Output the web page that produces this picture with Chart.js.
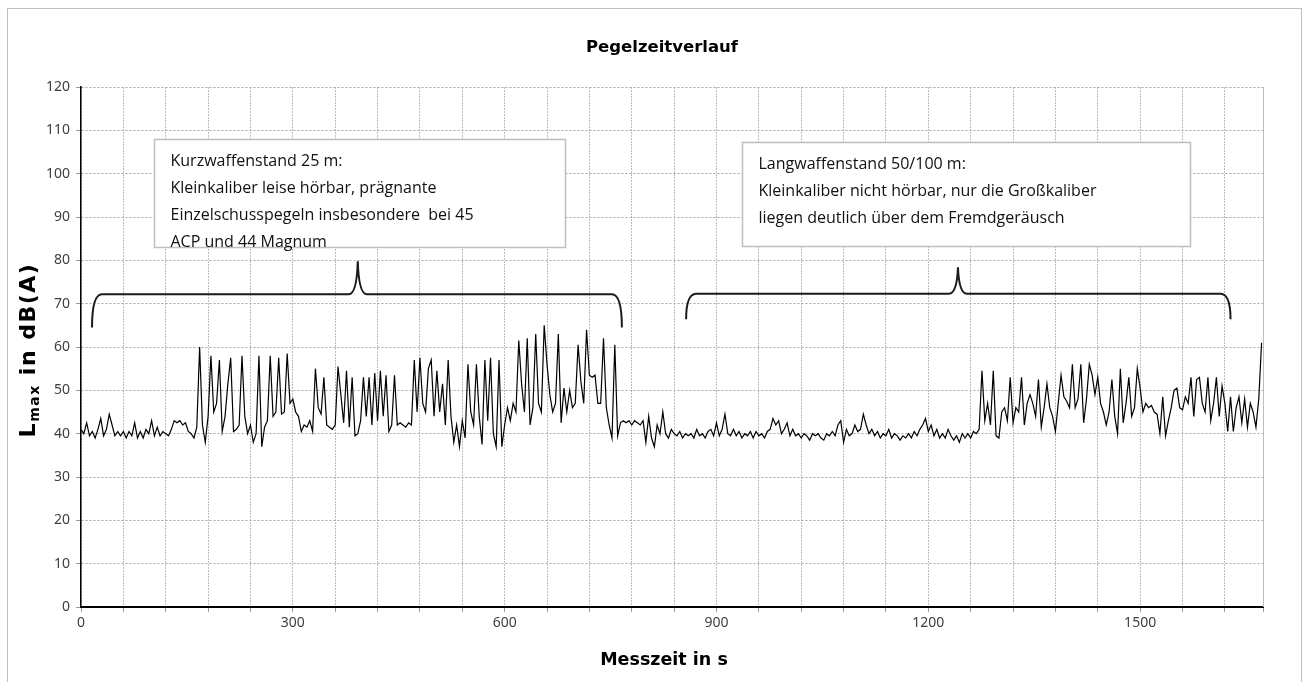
<!DOCTYPE html>
<html lang="de">
<head>
<meta charset="utf-8">
<title>Pegelzeitverlauf</title>
<script src="https://cdn.jsdelivr.net/npm/chart.js@4.4.1/dist/chart.umd.min.js"></script>
<style>
    html, body { margin: 0; padding: 0; background: #fff; }
    #wrap { width: 1309px; height: 682px; }
</style>
</head>
<body>
<div id="wrap"><canvas id="chart" width="1309" height="682"></canvas></div>
<script>

// ---------------- DATA ----------------
// L_max in dB(A), one value every 4 s
const STEP_S = 4;
const X_MAX = 1674;

const levels = [
    41, 40, 42.5, 39.5, 40.5, 39, 41, 43.5, 39.5, 41, 44.5, 42, 39.5, 40.5, 39.5,
    40.5, 39, 40.5, 39.5, 42.5, 39, 40.5, 39, 41, 40, 43, 39.5, 41.5, 39.5, 40.5,
    40, 39.5, 41, 43, 42.5, 43, 42, 42.5, 40.5, 40, 39, 41.5, 60, 42, 38,
    44, 58, 45, 47, 57, 40.5, 44, 51.5, 57.5, 40.5, 41, 42, 58, 44, 40,
    42, 38, 40, 58, 37, 41.5, 43, 58, 44, 45, 57.5, 44.5, 45, 58.5, 47,
    48, 45, 44, 40.5, 42, 41.5, 43, 40.5, 55, 46, 44.5, 53, 42, 41.5, 41,
    42, 55.5, 49, 42.5, 54.5, 41.5, 53, 39.5, 40, 43, 53, 44, 53, 42, 54,
    43, 54.5, 44, 53.5, 40.5, 42, 53.5, 42, 42.5, 42, 41.5, 42.5, 42, 57, 45,
    57.5, 47, 45, 55, 57, 44, 54.5, 45, 51.5, 42, 57, 44, 38, 42, 37,
    43, 39, 56, 45, 42, 56, 44, 37.5, 57, 43, 57.5, 40, 37, 57, 37,
    42, 46, 43, 47, 45, 61.5, 51.5, 45, 62, 42, 46, 63, 47, 45, 65,
    56, 49, 45, 47, 63, 42.5, 50.5, 45, 50, 46, 47, 60.5, 52, 47, 64,
    53.5, 53, 53.5, 47, 47, 62, 46, 42, 39, 60.5, 39.5, 42.5, 43, 42.5, 43,
    42, 43, 42.5, 42, 43, 38, 44, 39, 37, 42, 40, 45, 40, 39, 41,
    40, 39.5, 40.5, 39, 40, 39.5, 40, 39, 41, 39.5, 40, 39, 40.5, 41, 39.5,
    42.5, 39.5, 41, 44.5, 40, 39.5, 41, 39.5, 40.5, 39, 40, 39.5, 40.5, 39, 40.5,
    39.5, 40, 39, 40.5, 41, 43.5, 42, 43, 40, 41, 42.5, 39.5, 41, 39.5, 40,
    39, 40, 39.5, 38.5, 40, 39.5, 40, 39, 38.5, 40, 39.5, 40.5, 39.5, 42, 43,
    38, 41, 39.5, 40, 42, 40.5, 41, 44.5, 42, 40, 41, 39.5, 40.5, 39, 40,
    39.5, 41, 39, 40, 39.5, 38.5, 39.5, 39, 40, 39, 40.5, 39.5, 41, 42, 43.5,
    40.5, 42, 39.5, 41, 39, 40, 39, 41, 39.5, 38.5, 39.5, 38, 40, 39, 40,
    39, 40.5, 40, 41, 54.5, 43, 47, 42, 54.5, 39.5, 39, 45, 46, 43, 53,
    42.5, 46, 45, 53, 42, 47, 49, 47, 44, 52.5, 41.5, 46, 51.5, 46, 44,
    40.5, 47, 53.5, 48.5, 47.5, 46, 56, 46, 48, 56, 42.5, 48, 56, 53.5, 49,
    53, 47, 45, 42, 45, 52.5, 44, 40, 55, 42.5, 47, 53, 44, 46, 55,
    50.5, 45, 47, 46, 46.5, 45, 44.5, 40, 48.5, 39.5, 43, 46, 50, 50.5, 46,
    45.5, 48.5, 47, 53, 44, 52.5, 53, 47, 45, 53, 43, 47, 53, 44, 51,
    47, 40.5, 48.5, 40.5, 46, 48.5, 42.5, 48, 41.5, 47, 45, 41.5, 48, 61
];

// axis ticks
const xLabels = [0, 300, 600, 900, 1200, 1500];
const xGridStep = 60;
const yTickStep = 10;
const Y_MAX = 120;

// ---------------- ANNOTATIONS (data units) ----------------
const boxes = [
    {
        x0: 104, x1: 685, yTop: 108.0, yBottom: 83.0,
        lines: [
            "Kurzwaffenstand 25 m:",
            "Kleinkaliber leise hörbar, prägnante",
            "Einzelschusspegeln insbesondere  bei 45",
            "ACP und 44 Magnum"
        ]
    },
    {
        x0: 936, x1: 1571, yTop: 107.4, yBottom: 83.4,
        lines: [
            "Langwaffenstand 50/100 m:",
            "Kleinkaliber nicht hörbar, nur die Großkaliber",
            "liegen deutlich über dem Fremdgeräusch"
        ]
    }
];

const braces = [
    { xStart: 15.6, xEnd: 766, xPeak: 392, yBar: 72.2, yEnd: 64.5, yPeak: 79.8 },
    { xStart: 857, xEnd: 1628, xPeak: 1242, yBar: 72.3, yEnd: 66.4, yPeak: 78.4 }
];

// ---------------- HELPERS ----------------
const points = levels.map((v, i) => ({ x: i * STEP_S, y: v }));

let xGrid = [];
for (let v = 0; v <= X_MAX; v += xGridStep) xGrid.push(v);
xGrid.push(X_MAX);

const tickFont = { family: "'Noto Sans', sans-serif", size: 14 };
const titleFamily = "'DejaVu Sans', sans-serif";
const boxFamily = "'Open Sans', sans-serif";

// ---------------- DECORATION PLUGIN ----------------
const decor = {
    id: "decor",

    beforeDraw(chart) {
        const ctx = chart.ctx;
        ctx.save();
        ctx.fillStyle = "#fff";
        ctx.fillRect(0, 0, chart.width, chart.height);
        ctx.restore();
    },

    afterDraw(chart) {
        const ctx = chart.ctx;
        const sx = chart.scales.x, sy = chart.scales.y;
        const area = chart.chartArea;

        ctx.save();

        // frame
        ctx.strokeStyle = "#bfbfbf";
        ctx.lineWidth = 1;
        ctx.strokeRect(7.5, 8.5, 1294, 700);

        // right edge of plot
        ctx.strokeStyle = "#bdbdbd";
        ctx.beginPath();
        ctx.moveTo(area.right + 0.5, area.top);
        ctx.lineTo(area.right + 0.5, area.bottom);
        ctx.stroke();

        // title
        ctx.fillStyle = "#000";
        ctx.font = "bold 16.5px " + titleFamily;
        ctx.textAlign = "center";
        ctx.textBaseline = "middle";
        ctx.fillText("Pegelzeitverlauf", 662, 48);

        // x axis title
        ctx.font = "bold 17.5px " + titleFamily;
        ctx.fillText("Messzeit in s", 664, 660);

        // y axis title with subscript
        ctx.translate(27, 350);
        ctx.rotate(-Math.PI / 2);
        const bigFont = "bold 22px " + titleFamily;
        const subFont = "bold 14px " + titleFamily;
        ctx.letterSpacing = "1.5px";
        ctx.font = bigFont;
        const wL = ctx.measureText("L").width;
        const wRest = ctx.measureText(" in dB(A)").width;
        ctx.font = subFont;
        const wSub = ctx.measureText("max").width;
        let px = -(wL + wSub + wRest) / 2;
        ctx.textAlign = "left";
        ctx.textBaseline = "alphabetic";
        ctx.font = bigFont;
        ctx.fillText("L", px, 8);
        px += wL;
        ctx.font = subFont;
        ctx.fillText("max", px, 12);
        px += wSub;
        ctx.font = bigFont;
        ctx.fillText(" in dB(A)", px, 8);
        ctx.letterSpacing = "0px";
        ctx.setTransform(1, 0, 0, 1, 0, 0);

        // braces
        ctx.strokeStyle = "#1a1a1a";
        ctx.lineWidth = 2;
        braces.forEach(b => {
            const x0 = sx.getPixelForValue(b.xStart);
            const x1 = sx.getPixelForValue(b.xEnd);
            const xp = sx.getPixelForValue(b.xPeak);
            const yb = sy.getPixelForValue(b.yBar);
            const ye = sy.getPixelForValue(b.yEnd);
            const yp = sy.getPixelForValue(b.yPeak);
            const r = 10, rp = 9;
            ctx.beginPath();
            ctx.moveTo(x0, ye);
            ctx.quadraticCurveTo(x0, yb, x0 + r, yb);
            ctx.lineTo(xp - rp, yb);
            ctx.quadraticCurveTo(xp - 1, yb, xp, yp);
            ctx.quadraticCurveTo(xp + 1, yb, xp + rp, yb);
            ctx.lineTo(x1 - r, yb);
            ctx.quadraticCurveTo(x1, yb, x1, ye);
            ctx.stroke();
        });

        // text boxes
        boxes.forEach(b => {
            const left = Math.round(sx.getPixelForValue(b.x0)) + 0.5;
            const right = Math.round(sx.getPixelForValue(b.x1)) + 0.5;
            const top = Math.round(sy.getPixelForValue(b.yTop)) + 0.5;
            const bottom = Math.round(sy.getPixelForValue(b.yBottom)) + 0.5;
            ctx.fillStyle = "#fff";
            ctx.fillRect(left, top, right - left, bottom - top);
            ctx.strokeStyle = "#bfbfbf";
            ctx.lineWidth = 1.5;
            ctx.strokeRect(left, top, right - left, bottom - top);

            ctx.fillStyle = "#111";
            ctx.font = "16px " + boxFamily;
            ctx.textAlign = "left";
            ctx.textBaseline = "middle";
            b.lines.forEach((t, i) => {
                ctx.fillText(t, left + 16, top + 22 + i * 27);
            });
        });

        ctx.restore();
    }
};

// ---------------- CHART ----------------
const ctx = document.getElementById("chart").getContext("2d");

new Chart(ctx, {
    type: "line",
    data: {
        datasets: [{
            label: "Lmax",
            data: points,
            borderColor: "#000",
            borderWidth: 1.2,
            pointRadius: 0,
            tension: 0,
            fill: false
        }]
    },
    options: {
        responsive: false,
        animation: false,
        layout: { padding: { left: 0, right: 46, top: 87, bottom: 0 } },
        plugins: {
            legend: { display: false },
            tooltip: { enabled: false },
            title: { display: false }
        },
        scales: {
            x: {
                type: "linear",
                min: 0,
                max: X_MAX,
                afterBuildTicks: s => { s.ticks = xGrid.map(v => ({ value: v })); },
                afterFit: s => { s.height = 75; },
                ticks: {
                    autoSkip: false,
                    maxRotation: 0,
                    minRotation: 0,
                    padding: 3,
                    color: "#404040",
                    font: tickFont,
                    callback: v => xLabels.includes(v) ? String(v) : ""
                },
                grid: { color: "#bdbdbd", lineWidth: 1, tickLength: 5, tickColor: "#9a9a9a" },
                border: { display: true, color: "#000", width: 2, dash: [2, 1] }
            },
            y: {
                min: 0,
                max: Y_MAX,
                afterFit: s => { s.width = 81; },
                ticks: {
                    stepSize: yTickStep,
                    padding: 6,
                    color: "#404040",
                    font: tickFont
                },
                grid: { color: "#a6a6a6", lineWidth: 1, tickLength: 5, tickColor: "#9a9a9a" },
                border: { display: true, color: "#000", width: 1.5, dash: [2, 2] }
            }
        }
    },
    plugins: [decor]
});
</script>
</body>
</html>
